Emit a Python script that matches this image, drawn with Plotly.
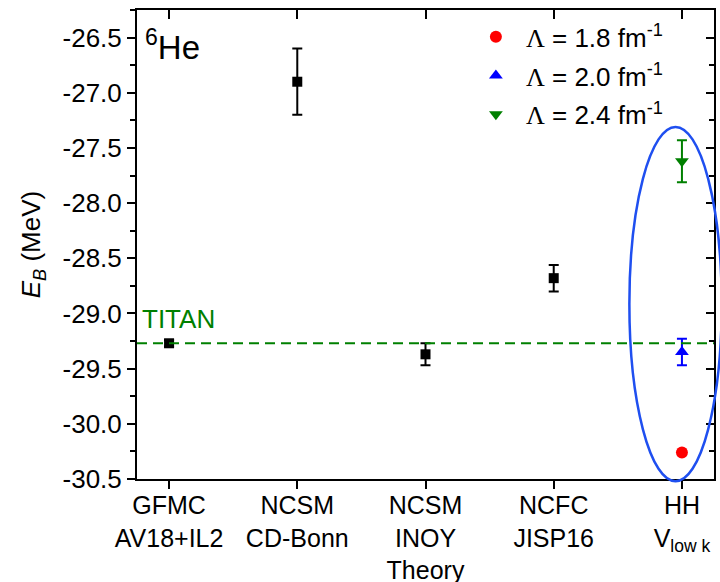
import plotly.graph_objects as go

# Ground-state binding energy of 6He from several ab initio methods
method_labels = [
    "GFMC<br>AV18+IL2",
    "NCSM<br>CD-Bonn",
    "NCSM<br>INOY<br>Theory",
    "NCFC<br>JISP16",
    "HH<br>V<sub>low k</sub>",
]
method_pos = [0, 1, 2, 3, 4]

theory_pos = [0, 1, 2, 3]
theory_eb = [-29.27, -26.90, -29.37, -28.68]
theory_err = [0.03, 0.30, 0.10, 0.12]

# HH results with V_low k at three cutoffs
hh_pos = 4
hh_cutoffs = ["1.8", "2.0", "2.4"]
hh_eb = [-30.26, -29.35, -27.62]
hh_err = [0.0, 0.12, 0.19]
hh_colors = ["#ff0000", "#0000ff", "#008000"]
hh_symbols = ["circle", "triangle-up", "triangle-down"]

titan_eb = -29.27

y_tickvals = [-30.5, -30.0, -29.5, -29.0, -28.5, -28.0, -27.5, -27.0, -26.5]
y_ticktext = ["-30.5", "-30.0", "-29.5", "-29.0", "-28.5", "-28.0", "-27.5", "-27.0", "-26.5"]

x_range = [-0.25, 4.25]
y_range = [-30.5, -26.25]

FONT = "Liberation Sans, Arial, sans-serif"

fig = go.Figure()

fig.add_trace(go.Scatter(
    x=theory_pos, y=theory_eb,
    mode="markers",
    marker=dict(symbol="square", size=10, color="black"),
    error_y=dict(type="data", array=theory_err, color="black", thickness=2, width=5),
    showlegend=False,
))

for lam, eb, err, col, sym in zip(hh_cutoffs, hh_eb, hh_err, hh_colors, hh_symbols):
    fig.add_trace(go.Scatter(
        x=[hh_pos], y=[eb],
        mode="markers",
        marker=dict(symbol=sym, size=12, color=col),
        error_y=dict(type="data", array=[err], color=col, thickness=2, width=5,
                     visible=err > 0),
        name="<span style='font-family:serif'>\u039b</span> = " + lam + " fm<sup>-1</sup>",
        legendgroup=lam,
    ))

# carrier trace for the top / right mirror axes
fig.add_trace(go.Scatter(x=[], y=[], xaxis="x2", yaxis="y2",
                         showlegend=False, hoverinfo="skip"))


def px(v):
    return (v - x_range[0]) / (x_range[1] - x_range[0])


def py(v):
    return (v - y_range[0]) / (y_range[1] - y_range[0])


# TITAN measurement
fig.add_shape(type="line", xref="paper", yref="y", x0=0, x1=1, y0=titan_eb, y1=titan_eb,
              line=dict(color="#008000", width=2, dash="10px,6px"))
fig.add_annotation(x=0, y=titan_eb + 0.22, xref="paper", yref="y", xanchor="left",
                   xshift=3, text="TITAN", showarrow=False,
                   font=dict(family=FONT, size=26, color="#008000"))

# ellipse grouping the HH results (may extend past the frame)
fig.add_shape(type="circle", xref="paper", yref="paper",
              x0=px(3.59), x1=px(4.31), y0=py(-30.52), y1=py(-27.31),
              line=dict(color="#1f4ff0", width=2.5))

fig.add_annotation(x=0, y=1, xref="paper", yref="paper", xanchor="left", yanchor="top",
                   xshift=6, yshift=-12, text="<sup>6</sup>He", showarrow=False,
                   font=dict(family=FONT, size=33, color="black"))

axis_common = dict(showgrid=False, zeroline=False, linecolor="black", linewidth=2,
                   tickcolor="black", tickwidth=2, automargin=False)

fig.update_layout(
    width=720, height=582,
    margin=dict(l=137, r=6, t=10, b=103),
    paper_bgcolor="white", plot_bgcolor="white",
    font=dict(family=FONT, size=26, color="black"),
    xaxis=dict(range=x_range, tickvals=method_pos, ticktext=method_labels,
               tickfont=dict(size=25), ticklabelstandoff=-5,
               showline=True, ticks="outside", ticklen=8, **axis_common),
    xaxis2=dict(range=x_range, tickvals=method_pos, overlaying="x", side="top",
                anchor="y", showticklabels=False, showline=True,
                ticks="inside", ticklen=9, **axis_common),
    yaxis=dict(range=y_range, tickvals=y_tickvals, ticktext=y_ticktext,
               showline=True, ticks="outside", ticklen=8,
               minor=dict(ticks="outside", ticklen=5, dtick=0.25, tick0=-30.5,
                          tickcolor="black", tickwidth=2),
               title=dict(text="<i>E</i><sub><i>B</i></sub> (MeV)", font=dict(size=26),
                          standoff=14),
               **axis_common),
    yaxis2=dict(range=y_range, tickvals=y_tickvals, overlaying="y", side="right",
                anchor="x", showticklabels=False, showline=True,
                ticks="inside", ticklen=8,
                minor=dict(ticks="inside", ticklen=5, dtick=0.25, tick0=-30.5,
                           tickcolor="black", tickwidth=2),
                **axis_common),
    legend=dict(x=0.57, y=0.993, xanchor="left", yanchor="top",
                bgcolor="rgba(0,0,0,0)", font=dict(size=26),
                tracegroupgap=2, itemwidth=50),
)

fig.write_html("out.html")
